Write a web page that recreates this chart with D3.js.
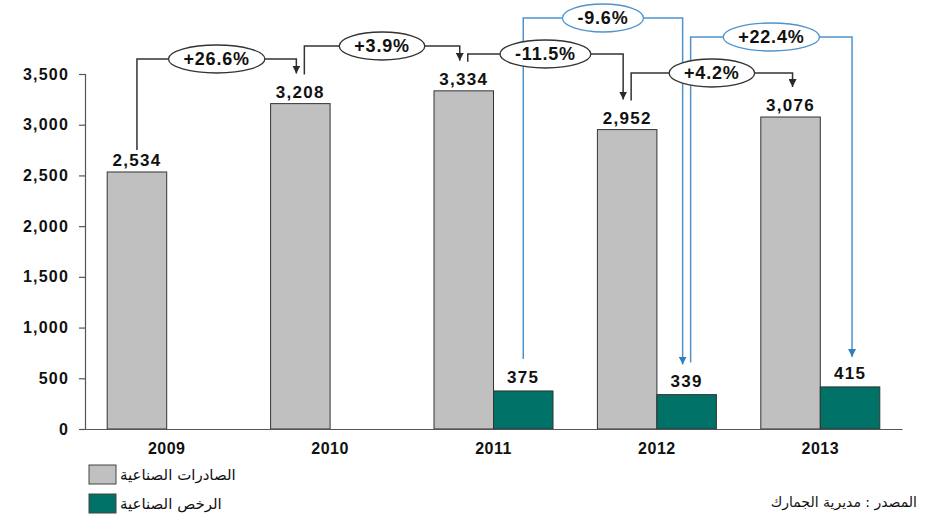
<!DOCTYPE html>
<html>
<head>
<meta charset="utf-8">
<script src="https://cdnjs.cloudflare.com/ajax/libs/d3/7.8.5/d3.min.js"></script>
<style>
  html, body { margin: 0; padding: 0; background: #fff; }
  svg { display: block; }
</style>
</head>
<body>
<svg id="chart" width="932" height="515"></svg>
<script>
// ---- data ----
const years = ['2009', '2010', '2011', '2012', '2013'];
const exportsVals = [2534, 3208, 3334, 2952, 3076];          // الصادرات الصناعية
const licenseVals = [null, null, 375, 339, 415];              // الرخص الصناعية
const exportChanges = ['+26.6%', '+3.9%', '-11.5%', '+4.2%']; // between consecutive years
const licenseChanges = ['-9.6%', '+22.4%'];                   // 2011->2012, 2012->2013
const yTicks = [0, 500, 1000, 1500, 2000, 2500, 3000, 3500];
const seriesNames = ['الصادرات الصناعية', 'الرخص الصناعية'];
const sourceText = 'المصدر : مديرية الجمارك';

// ---- setup ----
const svg = d3.select('#chart');
const GRAY = '#c0c0c0', TEAL = '#007166', BLUE = '#4f93cc', DARK = '#2a2a2a';
const numFont = '"Liberation Sans", Arial, sans-serif';
const arFont = '"DejaVu Sans", sans-serif';

const x = d3.scaleBand().domain(years).range([85, 902]).paddingInner(0).paddingOuter(0);
const y = d3.scaleLinear().domain([0, 3500]).range([429, 74]);
const barW = 59.5;
const center = d => x(d) + x.bandwidth() / 2;
const fmt = d3.format(',');

// defs: arrowheads
const defs = svg.append('defs');
function marker(id, color) {
  defs.append('marker').attr('id', id)
    .attr('viewBox', '0 0 10 10').attr('refX', 10).attr('refY', 5)
    .attr('markerWidth', 8).attr('markerHeight', 8).attr('markerUnits', 'userSpaceOnUse')
    .attr('orient', 'auto')
    .append('path').attr('d', 'M0,0 L10,5 L0,10 Z').attr('fill', color);
}
marker('arrBlack', DARK);
marker('arrBlue', '#2f7fc0');

// ---- Y axis ----
const yAxis = d3.axisLeft(y).tickValues(yTicks).tickSize(6).tickPadding(10).tickFormat(fmt);
const gy = svg.append('g').attr('transform', 'translate(85,0)').call(yAxis);
gy.select('.domain').attr('stroke', '#555').attr('stroke-width', 1.2).attr('d', 'M-6,74.5H0.5V429.5');
gy.selectAll('.tick line').attr('stroke', '#555').attr('stroke-width', 1.2);
gy.selectAll('.tick text').attr('font-family', numFont).attr('font-weight', 'bold')
  .attr('font-size', 16).attr('letter-spacing', 1.2).attr('fill', '#111');

// ---- X axis ----
const xAxis = d3.axisBottom(x).tickSize(0).tickPadding(14);
const gx = svg.append('g').attr('transform', 'translate(0,429)').call(xAxis);
gx.select('.domain').attr('stroke', '#555').attr('stroke-width', 1.2);
gx.selectAll('.tick text').attr('font-family', numFont).attr('font-weight', 'bold')
  .attr('font-size', 16).attr('letter-spacing', 0.5).attr('fill', '#111');

// ---- bars ----
svg.append('g').selectAll('rect').data(years).join('rect')
  .attr('x', d => center(d) - barW)
  .attr('y', (d, i) => y(exportsVals[i]))
  .attr('width', barW)
  .attr('height', (d, i) => y(0) - y(exportsVals[i]))
  .attr('fill', GRAY).attr('stroke', '#333').attr('stroke-width', 1);

const licIdx = years.map((d, i) => i).filter(i => licenseVals[i] != null);
svg.append('g').selectAll('rect').data(licIdx).join('rect')
  .attr('x', i => center(years[i]))
  .attr('y', i => y(licenseVals[i]))
  .attr('width', barW)
  .attr('height', i => y(0) - y(licenseVals[i]))
  .attr('fill', TEAL).attr('stroke', '#333').attr('stroke-width', 1);

// redraw x-axis line on top
svg.append('line').attr('x1', 85).attr('x2', 902).attr('y1', 429.5).attr('y2', 429.5)
  .attr('stroke', '#555').attr('stroke-width', 1.2);

// ---- value labels ----
const labelStyle = sel => sel.attr('font-family', numFont).attr('font-weight', 'bold')
  .attr('font-size', 17).attr('letter-spacing', 1.3).attr('fill', '#111').attr('text-anchor', 'middle');

svg.append('g').selectAll('text').data(years).join('text')
  .attr('x', d => center(d) - barW / 2)
  .attr('y', (d, i) => y(exportsVals[i]) - 6)
  .text((d, i) => fmt(exportsVals[i]))
  .call(labelStyle);

svg.append('g').selectAll('text').data(licIdx).join('text')
  .attr('x', i => center(years[i]) + barW / 2)
  .attr('y', i => y(licenseVals[i]) - 8)
  .text(i => fmt(licenseVals[i]))
  .call(labelStyle);

// ---- change connectors ----
function connector(g, x1, yStart, x2, yTip, level, label, color, markerId) {
  g.append('path')
    .attr('d', `M${x1},${yStart} V${level} H${x2} V${yTip}`)
    .attr('fill', 'none').attr('stroke', color).attr('stroke-width', 1.5)
    .attr('marker-end', `url(#${markerId})`);
  const cx = (x1 + x2) / 2;
  const t = g.append('text').attr('x', cx).attr('y', level + 6)
    .attr('text-anchor', 'middle').attr('font-family', numFont).attr('font-weight', 'bold')
    .attr('font-size', 18).attr('letter-spacing', 0.8).attr('fill', '#111').text(label);
  const w = t.node().getComputedTextLength();
  g.insert('ellipse', 'text').attr('cx', cx).attr('cy', level)
    .attr('rx', w / 2 + 15).attr('ry', 14)
    .attr('fill', '#fff').attr('stroke', color).attr('stroke-width', 1.3);
}

const gBlack = svg.append('g');
const blackLevels = [59, 46, 54, 73];
exportChanges.forEach((lab, i) => {
  const a = years[i], b = years[i + 1];
  const ax = center(a) - barW / 2, bx = center(b) - barW / 2;
  const x1 = i === 0 ? ax : ax + 4;
  const yStart = i === 0 ? y(exportsVals[i]) - 22 : y(exportsVals[i]) - 29;
  const x2 = i === exportChanges.length - 1 ? bx + 2 : bx - 4;
  const yTip = y(exportsVals[i + 1]) - 30;
  connector(gBlack, x1, yStart, x2, yTip, blackLevels[i], lab, '#333', 'arrBlack');
});

const gBlue = svg.append('g');
const blueLevels = [18, 37];
licenseChanges.forEach((lab, k) => {
  const i = licIdx[k], j = licIdx[k + 1];
  const ax = center(years[i]) + barW / 2, bx = center(years[j]) + barW / 2;
  const x1 = k === 0 ? ax : ax + 4;
  const yStart = y(licenseVals[i]) - 32;
  const x2 = k === licenseChanges.length - 1 ? bx + 2 : bx - 4;
  const yTip = y(licenseVals[j]) - 30;
  connector(gBlue, x1, yStart, x2, yTip, blueLevels[k], lab, BLUE, 'arrBlue');
});
// keep ellipses/texts on top of crossing lines
gBlue.selectAll('ellipse, text').raise();
gBlack.raise();
gBlack.selectAll('ellipse, text').raise();

// ---- legend ----
const leg = svg.append('g');
[GRAY, TEAL].forEach((c, i) => {
  leg.append('rect').attr('x', 89).attr('y', 465 + i * 29).attr('width', 27).attr('height', 19)
    .attr('fill', c).attr('stroke', '#444').attr('stroke-width', 1);
  leg.append('text').attr('x', 120).attr('y', 480 + i * 29)
    .attr('font-family', arFont).attr('font-size', 15).attr('fill', '#111')
    .text(seriesNames[i]);
});

// ---- source ----
svg.append('text').attr('x', 917).attr('y', 507).attr('text-anchor', 'end')
  .attr('font-family', arFont).attr('font-size', 14).attr('fill', '#111')
  .text(sourceText);
</script>
</body>
</html>
